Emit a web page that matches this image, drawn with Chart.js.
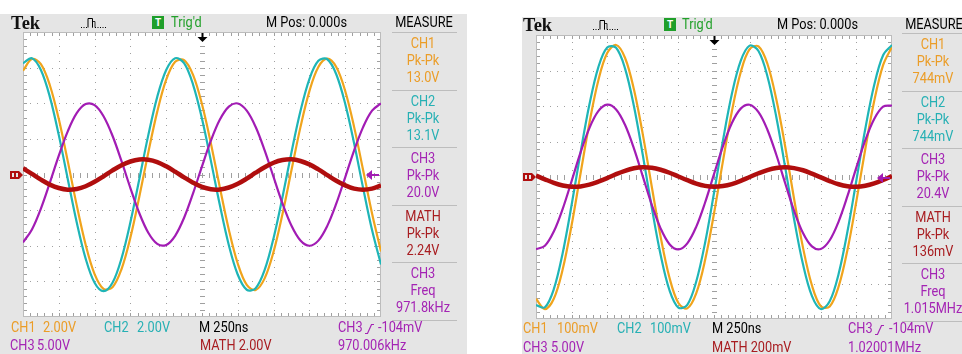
<!DOCTYPE html>
<html>
<head>
<meta charset="utf-8">
<script src="https://cdn.jsdelivr.net/npm/chart.js@4.4.1/dist/chart.umd.min.js"></script>
<style>
  html, body { margin: 0; padding: 0; background: #fff; }
  body { position: relative; width: 962px; height: 354px; overflow: hidden; }
  .panel { position: absolute; background: #e5e5e5; }
  .lbl {
    position: absolute; white-space: nowrap; line-height: 1;
    font: 14.5px Roboto, 'Liberation Sans', sans-serif;
    transform: translateY(-50%) scaleX(0.88); transform-origin: 0 50%;
  }
  .lbl.c { transform: translate(-50%, -50%) scaleX(0.88); transform-origin: 50% 50%; }
  .tek { font: 18.5px 'Liberation Serif', serif; font-weight: bold; transform: translateY(-50%); }
  .sep { position: absolute; height: 1px; background: #bdbdbd; }
  .tbox { position: absolute; width: 12px; height: 13px; background: #1f9f2a; color: #fff;
          font: bold 10px Roboto, sans-serif; line-height: 13px; text-align: center; }
  canvas { position: absolute; }
</style>
</head>
<body>
<div class="panel" style="left:0;top:14px;width:467px;height:340px"></div>
<div class="panel" style="left:522px;top:17px;width:440px;height:337px"></div>
<canvas id="scopeL" width="386" height="293" style="left:9px;top:28px"></canvas>
<canvas id="scopeR" width="384" height="292" style="left:522px;top:31px"></canvas>

<script>
// ── Data ─────────────────────────────────────────────────────────────────────
// sample times across the 10 divisions (250 ns/div), in ns
const timeNs = [-1250, -1187.5, -1125, -1062.5, -1000, -937.5, -875, -812.5, -750, -687.5,
  -625, -562.5, -500, -437.5, -375, -312.5, -250, -187.5, -125, -62.5, 0,
  62.5, 125, 187.5, 250, 312.5, 375, 437.5, 500, 562.5, 625,
  687.5, 750, 812.5, 875, 937.5, 1000, 1062.5, 1125, 1187.5, 1250];

// left screen, ~970 kHz (volts)
const leftCh1 = [5.83, 6.48, 6.20, 5.01, 3.11, 0.75, -1.72, -3.94, -5.59, -6.42,
  -6.33, -5.32, -3.54, -1.24, 1.24, 3.53, 5.32, 6.33, 6.42, 5.59,
  3.94, 1.73, -0.74, -3.10, -5.01, -6.20, -6.48, -5.83, -4.33, -2.20,
  0.25, 2.66, 4.68, 6.03, 6.50, 6.03, 4.69, 2.66, 0.25, -2.19, -4.32];
const leftCh2 = [6.24, 6.53, 5.87, 4.36, 2.21, -0.25, -2.68, -4.72, -6.08, -6.55,
  -6.08, -4.72, -2.68, -0.25, 2.21, 4.36, 5.87, 6.53, 6.25, 5.05,
  3.13, 0.75, -1.73, -3.97, -5.63, -6.47, -6.38, -5.36, -3.56, -1.25,
  1.25, 3.56, 5.36, 6.38, 6.47, 5.63, 3.97, 1.74, -0.75, -3.12, -5.05];
const leftCh3 = [-9.53, -7.71, -4.78, -1.15, 2.65, 6.06, 8.60, 9.88, 9.74, 8.18,
  5.44, 1.90, -1.90, -5.44, -8.18, -9.74, -9.88, -8.60, -6.07, -2.65,
  1.14, 4.78, 7.71, 9.53, 9.97, 8.96, 6.66, 3.38, -0.38, -4.09,
  -7.20, -9.27, -10.0, -9.28, -7.21, -4.10, -0.39, 3.38, 6.65, 8.96, 9.97];
const leftMath = [0.35, 0.03, -0.29, -0.57, -0.76, -0.85, -0.81, -0.66, -0.41, -0.10,
  0.23, 0.52, 0.73, 0.84, 0.83, 0.70, 0.46, 0.16, -0.16, -0.46,
  -0.70, -0.83, -0.84, -0.73, -0.52, -0.23, 0.10, 0.41, 0.66, 0.81,
  0.85, 0.76, 0.57, 0.29, -0.03, -0.35, -0.61, -0.79, -0.85, -0.79, -0.61];
const leftVdiv = { ch1: 2, ch2: 2, ch3: 5, math: 2 };   // V/div

// right screen, ~1.02 MHz (CH1/CH2/MATH in mV, CH3 in V)
const rightCh1 = [-343, -372, -343, -260, -136, 9, 152, 272, 349, 372,
  336, 247, 120, -26, -168, -284, -355, -370, -328, -234,
  -103, 44, 184, 295, 360, 368, 319, 219, 86, -62,
  -199, -305, -364, -365, -309, -205, -68, 79, 214, 315, 367];
const rightCh2 = [-361, -367, -316, -214, -79, 68, 204, 309, 365, 364,
  306, 200, 62, -85, -219, -319, -368, -360, -295, -185,
  -45, 102, 233, 327, 370, 355, 284, 169, 27, -119,
  -246, -335, -372, -350, -273, -153, -9, 136, 259, 343, 372];
const rightCh3 = [-10.17, -9.69, -7.68, -4.48, -0.57, 3.43, 6.89, 9.27, 10.19, 9.52,
  7.36, 4.04, 0.09, -3.88, -7.24, -9.46, -10.20, -9.34, -7.02, -3.59,
  0.40, 4.32, 7.57, 9.63, 10.18, 9.13, 6.66, 3.13, -0.88, -4.76,
  -7.89, -9.78, -10.14, -8.91, -6.28, -2.67, 1.36, 5.18, 8.18, 9.91, 10.07];
const rightMath = [8, -13, -33, -48, -55, -53, -43, -26, -6, 16,
  35, 49, 55, 52, 41, 24, 3, -18, -37, -50,
  -55, -51, -40, -22, 0, 21, 39, 51, 55, 50,
  38, 19, -2, -23, -41, -52, -55, -49, -36, -17, 5];
const rightVdiv = { ch1: 100, ch2: 100, ch3: 5, math: 200 };

const trigLevel = -0.104;   // CH3 trigger level, V

const leftMeasure = [['CH1', 'Pk-Pk', '13.0V'], ['CH2', 'Pk-Pk', '13.1V'], ['CH3', 'Pk-Pk', '20.0V'],
  ['MATH', 'Pk-Pk', '2.24V'], ['CH3', 'Freq', '971.8kHz']];
const rightMeasure = [['CH1', 'Pk-Pk', '744mV'], ['CH2', 'Pk-Pk', '744mV'], ['CH3', 'Pk-Pk', '20.4V'],
  ['MATH', 'Pk-Pk', '136mV'], ['CH3', 'Freq', '1.015MHz']];

// ── Colours ──────────────────────────────────────────────────────────────────
const TRACE = { CH1: '#f0a41c', CH2: '#1fb5b7', CH3: '#a21cb4', MATH: '#b00e0e' };
const TEXT  = { CH1: '#eb9d28', CH2: '#26b0b4', CH3: '#a424b4', MATH: '#a81c20' };

// ── Graticule + markers ─────────────────────────────────────────────────────
const graticule = {
  id: 'graticule',
  beforeDatasetsDraw(chart) {
    const { ctx, chartArea: a } = chart;
    const dx = a.width / 10, dy = a.height / 8;
    ctx.save();
    ctx.fillStyle = '#fff';
    ctx.fillRect(a.left, a.top, a.width, a.height);

    ctx.fillStyle = '#a0a0a0';
    // dotted division lines
    for (let k = 1; k < 10; k++) {
      if (k === 5) continue;
      const x = Math.round(a.left + k * dx);
      for (let j = 1; j < 40; j++) ctx.fillRect(x, Math.round(a.top + j * dy / 5), 1, 1);
    }
    for (let k = 1; k < 8; k++) {
      if (k === 4) continue;
      const y = Math.round(a.top + k * dy);
      for (let j = 1; j < 50; j++) ctx.fillRect(Math.round(a.left + j * dx / 5), y, 1, 1);
    }
    // centre cross with minor ticks
    const cx = Math.round(a.left + 5 * dx), cy = Math.round(a.top + 4 * dy);
    for (let j = 1; j < 40; j++) ctx.fillRect(cx - 2, Math.round(a.top + j * dy / 5), 5, 1);
    for (let j = 1; j < 50; j++) ctx.fillRect(Math.round(a.left + j * dx / 5), cy - 2, 1, 5);
    // edge ticks
    for (let j = 1; j < 50; j++) {
      const x = Math.round(a.left + j * dx / 5);
      ctx.fillRect(x, a.top, 1, 4);
      ctx.fillRect(x, a.bottom - 4, 1, 4);
    }
    for (let j = 1; j < 40; j++) {
      const y = Math.round(a.top + j * dy / 5);
      ctx.fillRect(a.left, y, 4, 1);
      ctx.fillRect(a.right - 4, y, 4, 1);
    }
    ctx.strokeStyle = '#bcbcbc';
    ctx.lineWidth = 1;
    ctx.strokeRect(a.left + 0.5, a.top + 0.5, a.width - 1, a.height - 1);
    ctx.restore();
  }
};

const scopeMarks = {
  id: 'scopeMarks',
  afterDatasetsDraw(chart) {
    const { ctx, chartArea: a, scales } = chart;
    ctx.save();
    // trigger position arrow
    const tx = Math.round(scales.x.getPixelForValue(0)) + 0.5;
    ctx.strokeStyle = '#000'; ctx.fillStyle = '#000'; ctx.lineWidth = 2;
    ctx.beginPath(); ctx.moveTo(tx, a.top + 1); ctx.lineTo(tx, a.top + 6); ctx.stroke();
    ctx.beginPath(); ctx.moveTo(tx - 5, a.top + 5); ctx.lineTo(tx + 5, a.top + 5); ctx.lineTo(tx, a.top + 10);
    ctx.closePath(); ctx.fill();
    // MATH reference marker (left)
    const my = Math.round(scales.ym.getPixelForValue(0));
    ctx.fillStyle = TRACE.MATH;
    ctx.beginPath();
    ctx.moveTo(a.left - 13, my - 4); ctx.lineTo(a.left - 4, my - 4); ctx.lineTo(a.left, my);
    ctx.lineTo(a.left - 4, my + 4); ctx.lineTo(a.left - 13, my + 4); ctx.closePath(); ctx.fill();
    ctx.fillStyle = '#e5e5e5';
    ctx.fillRect(a.left - 11, my - 2, 2, 4);
    ctx.fillRect(a.left - 7, my - 2, 2, 4);
    // CH3 trigger level marker (right)
    const ty = Math.round(scales.y3.getPixelForValue(trigLevel));
    ctx.fillStyle = TRACE.CH3; ctx.strokeStyle = TRACE.CH3; ctx.lineWidth = 2;
    ctx.beginPath(); ctx.moveTo(a.right - 9, ty - 5); ctx.lineTo(a.right - 9, ty + 5); ctx.lineTo(a.right - 15, ty);
    ctx.closePath(); ctx.fill();
    ctx.beginPath(); ctx.moveTo(a.right - 10, ty); ctx.lineTo(a.right - 2, ty); ctx.stroke();
    ctx.restore();
  }
};

// ── Scope chart ──────────────────────────────────────────────────────────────
function makeScope(canvasId, ch1, ch2, ch3, math, vdiv) {
  const pts = v => timeNs.map((t, i) => ({ x: t, y: v[i] }));
  const range = d => ({ min: -4 * d, max: 4 * d, display: false });
  return new Chart(document.getElementById(canvasId), {
    type: 'line',
    data: {
      datasets: [
        { label: 'MATH', data: pts(math), yAxisID: 'ym', borderColor: TRACE.MATH, borderWidth: 4.5, order: 0 },
        { label: 'CH3', data: pts(ch3), yAxisID: 'y3', borderColor: TRACE.CH3, borderWidth: 2.2, order: 1 },
        { label: 'CH2', data: pts(ch2), yAxisID: 'y2', borderColor: TRACE.CH2, borderWidth: 2.2, order: 2 },
        { label: 'CH1', data: pts(ch1), yAxisID: 'y1', borderColor: TRACE.CH1, borderWidth: 2.2, order: 3 },
      ]
    },
    options: {
      responsive: false,
      animation: false,
      devicePixelRatio: 1,
      layout: { padding: { left: 14, right: 14, top: 4, bottom: 4 } },
      elements: { point: { radius: 0 }, line: { tension: 0.35, fill: false } },
      plugins: { legend: { display: false }, tooltip: { enabled: false } },
      scales: {
        x: { type: 'linear', min: -1250, max: 1250, display: false },
        y1: range(vdiv.ch1),
        y2: range(vdiv.ch2),
        y3: range(vdiv.ch3),
        ym: range(vdiv.math),
      }
    },
    plugins: [graticule, scopeMarks]
  });
}

makeScope('scopeL', leftCh1, leftCh2, leftCh3, leftMath, leftVdiv);
makeScope('scopeR', rightCh1, rightCh2, rightCh3, rightMath, rightVdiv);

// ── Screen text ──────────────────────────────────────────────────────────────
function put(x, y, text, color, cls) {
  const d = document.createElement('div');
  d.className = 'lbl' + (cls ? ' ' + cls : '');
  d.style.left = x + 'px';
  d.style.top = y + 'px';
  d.style.color = color || '#000';
  d.textContent = text;
  document.body.appendChild(d);
  return d;
}

function icon(x, y, w, h, svg) {
  const d = document.createElement('div');
  d.style.cssText = 'position:absolute;left:' + x + 'px;top:' + y + 'px;width:' + w + 'px;height:' + h + 'px';
  d.innerHTML = '<svg width="' + w + '" height="' + h + '">' + svg + '</svg>';
  document.body.appendChild(d);
}

const pulseSvg =
  '<path d="M0 11.5H7" stroke="#000" stroke-dasharray="1 1.5"/>' +
  '<path d="M7 11.5V2.5H11.5V11.5" fill="none" stroke="#000"/>' +
  '<path d="M11.5 11.5V5.5H14V11.5" fill="none" stroke="#000" stroke-width="0.8"/>' +
  '<path d="M14 11.5H26" stroke="#000" stroke-dasharray="1 1.5"/>';
const slopeSvg = '<path d="M0 10.5H2.5L6.5 1.5H9" fill="none" stroke="' + TEXT.CH3 + '" stroke-width="1.2"/>';

function header(x0, y, tBoxX, trigX, mposX, measCx) {
  put(x0, y + 1, 'Tek', '#111', 'tek');
  icon(x0 + 70, y - 7, 26, 13, pulseSvg);
  const t = document.createElement('div');
  t.className = 'tbox'; t.style.left = tBoxX + 'px'; t.style.top = (y - 6) + 'px'; t.textContent = 'T';
  document.body.appendChild(t);
  put(trigX, y, "Trig'd", '#22a02a');
  put(mposX, y, 'M Pos: 0.000s', '#000');
  put(measCx, y, 'MEASURE', '#000', 'c');
}

function measurePanel(cx, top, x0, x1, rows) {
  const h = 57.6;
  rows.forEach((r, i) => {
    const bt = top + h * i;
    const s = document.createElement('div');
    s.className = 'sep';
    s.style.cssText = 'left:' + x0 + 'px;top:' + Math.round(bt) + 'px;width:' + (x1 - x0) + 'px';
    document.body.appendChild(s);
    r.forEach((txt, j) => put(cx, bt + 11 + 17 * j, txt, TEXT[r[0]], 'c'));
  });
  const s = document.createElement('div');
  s.className = 'sep';
  s.style.cssText = 'left:' + x0 + 'px;top:' + Math.round(top + h * rows.length) + 'px;width:' + (x1 - x0) + 'px';
  document.body.appendChild(s);
}

// left screen
header(11, 22, 152, 171, 266, 424);
measurePanel(423, 32, 392, 457, leftMeasure);
put(11, 327, 'CH1', TEXT.CH1);   put(43, 327, '2.00V', TEXT.CH1);
put(104, 327, 'CH2', TEXT.CH2);  put(137, 327, '2.00V', TEXT.CH2);
put(199, 327, 'M 250ns', '#000');
put(338, 327, 'CH3', TEXT.CH3);  icon(365, 321, 10, 12, slopeSvg); put(378, 327, '-104mV', TEXT.CH3);
put(10, 345, 'CH3', TEXT.CH3);   put(37, 345, '5.00V', TEXT.CH3);
put(200, 345, 'MATH 2.00V', TEXT.MATH);
put(338, 345, '970.006kHz', TEXT.CH3);

// right screen
header(523, 24, 664, 682, 777, 934);
measurePanel(933, 33, 902, 962, rightMeasure);
put(523, 328, 'CH1', TEXT.CH1);  put(557, 328, '100mV', TEXT.CH1);
put(617, 328, 'CH2', TEXT.CH2);  put(650, 328, '100mV', TEXT.CH2);
put(712, 328, 'M 250ns', '#000');
put(848, 328, 'CH3', TEXT.CH3);  icon(875, 322, 10, 12, slopeSvg); put(889, 328, '-104mV', TEXT.CH3);
put(523, 347, 'CH3', TEXT.CH3);  put(551, 347, '5.00V', TEXT.CH3);
put(712, 347, 'MATH 200mV', TEXT.MATH);
put(848, 347, '1.02001MHz', TEXT.CH3);
</script>
</body>
</html>
